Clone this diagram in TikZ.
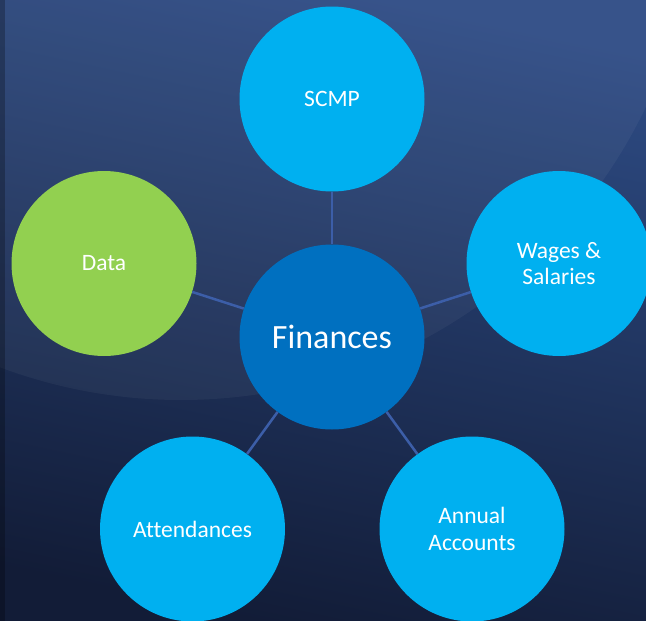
\documentclass[tikz,border=0pt]{standalone}
\usepackage{fontspec}
\setmainfont[Ligatures={NoCommon}]{Carlito}
\definecolor{bgtop}{HTML}{2E4C85}
\definecolor{bgbot}{HTML}{121C37}
\definecolor{lightblue}{HTML}{00B0F0}
\definecolor{midblue}{HTML}{0070C0}
\definecolor{leafgreen}{HTML}{92D050}
\definecolor{linkblue}{HTML}{3C5EA8}
\tikzset{
  bubble/.style={circle, minimum size=185pt, inner sep=0pt, fill=lightblue, text=white,
    font=\fontsize{23.5pt}{26.5pt}\selectfont, align=center},
  hub/.style={bubble, fill=midblue, font=\fontsize{34pt}{38pt}\selectfont},
  greenbubble/.style={bubble, fill=leafgreen},
  link/.style={draw=linkblue, line width=2.5pt}
}
\begin{document}
\begin{tikzpicture}[x=1pt,y=-1pt]
\useasboundingbox (0,0) rectangle (646,621);
\shade[top color=bgtop, bottom color=bgbot, shading angle=-12] (-40,0) rectangle (686,621);
\begin{scope}
\clip (0,0) rectangle (646,621);
\fill[white, opacity=0.045] (181,-115) circle (515);
\fill[black, opacity=0.25] (0,0) rectangle (5,621);
\end{scope}
\node[hub] (fin) at (332,337) {Finances};
\node[bubble] (scmp) at (332,99) {SCMP};
\node[bubble] (wages) at (559,263.5) {Wages \&\\Salaries};
\node[bubble] (annual) at (472,529) {Annual\\Accounts};
\node[bubble] (att) at (192.5,529) {Attendances};
\node[greenbubble] (data) at (104,263.5) {Data};
\draw[link] (fin) -- (scmp);
\draw[link] (fin) -- (wages);
\draw[link] (fin) -- (annual);
\draw[link] (fin) -- (att);
\draw[link] (fin) -- (data);
\end{tikzpicture}
\end{document}
